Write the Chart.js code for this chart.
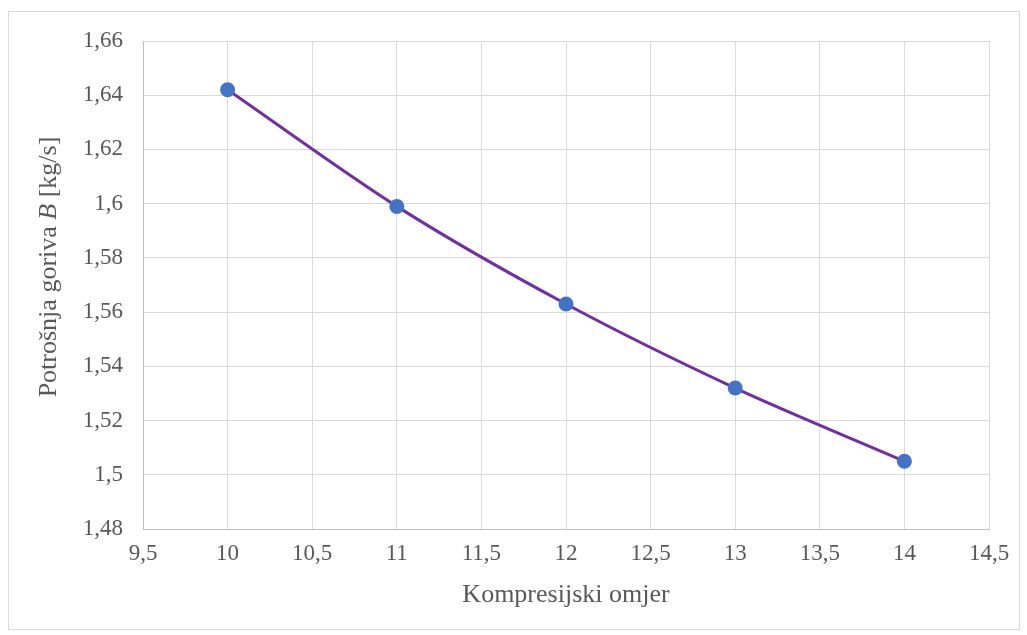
<!DOCTYPE html>
<html>
<head>
<meta charset="utf-8">
<script src="https://cdn.jsdelivr.net/npm/chart.js@4"></script>
<style>
  body { margin: 0; background: #fff; }
  #wrap { width: 1027px; height: 635px; }
</style>
</head>
<body>
<div id="wrap"><canvas id="myChart"></canvas></div>
<script>
const ratios = [10, 11, 12, 13, 14];
const fuelUse = [1.642, 1.599, 1.563, 1.532, 1.505];
const xTitle = 'Kompresijski omjer';
const yTitleParts = [
    { text: 'Potrošnja goriva ', style: '' },
    { text: 'B', style: 'italic ' },
    { text: ' [kg/s]', style: '' }
];

const serif = '"Liberation Serif", "Times New Roman", serif';
const gray = '#595959';
const titleSize = 26;
const tickSize = 23;

function comma(v) {
    return String(parseFloat(Number(v).toFixed(2))).replace('.', ',');
}

// frame around the whole chart, like the Excel chart border
const framePlugin = {
    id: 'frame',
    beforeDraw(c) {
        const ctx = c.ctx;
        ctx.save();
        ctx.strokeStyle = '#d9d9d9';
        ctx.lineWidth = 1;
        ctx.strokeRect(8.5, 11.5, 1011, 618);
        ctx.restore();
    }
};

// y title with the italic B
const yTitlePlugin = {
    id: 'yTitle',
    afterDraw(c) {
        const ctx = c.ctx;
        ctx.save();
        ctx.fillStyle = gray;
        ctx.textBaseline = 'middle';
        let total = 0;
        yTitleParts.forEach(p => {
            ctx.font = p.style + titleSize + 'px ' + serif;
            total += ctx.measureText(p.text).width;
        });
        ctx.translate(49, 267);
        ctx.rotate(-Math.PI / 2);
        let x = -total / 2;
        yTitleParts.forEach(p => {
            ctx.font = p.style + titleSize + 'px ' + serif;
            ctx.fillText(p.text, x, 0);
            x += ctx.measureText(p.text).width;
        });
        ctx.restore();
    }
};

const chart = document.querySelector('#myChart');
const myChart = new Chart(chart, {
    type: 'line',
    data: {
        datasets: [{
            data: ratios.map((r, i) => ({ x: r, y: fuelUse[i] })),
            borderColor: '#7030a0',
            borderWidth: 3,
            backgroundColor: '#4472c4',
            pointBackgroundColor: '#4472c4',
            pointBorderColor: '#4472c4',
            pointRadius: 7.5,
            pointBorderWidth: 0,
            tension: 0.3,
            fill: false
        }]
    },
    options: {
        responsive: true,
        maintainAspectRatio: false,
        animation: false,
        layout: { padding: { top: 41, right: 38, left: 0, bottom: 0 } },
        plugins: {
            legend: { display: false },
            tooltip: { enabled: false }
        },
        scales: {
            x: {
                type: 'linear',
                min: 9.5,
                max: 14.5,
                ticks: {
                    stepSize: 0.5,
                    color: gray,
                    padding: 11,
                    font: { family: serif, size: tickSize },
                    callback: comma,
                    maxRotation: 0
                },
                grid: { color: '#d9d9d9', lineWidth: 1, drawTicks: false },
                border: { color: '#bfbfbf', width: 1 },
                title: {
                    display: true,
                    text: xTitle,
                    color: gray,
                    font: { family: serif, size: titleSize },
                    padding: { top: 0, bottom: 24 }
                },
                afterFit(scale) { scale.height = 106; }
            },
            y: {
                min: 1.48,
                max: 1.66,
                ticks: {
                    stepSize: 0.02,
                    color: gray,
                    padding: 20,
                    font: { family: serif, size: tickSize },
                    callback: comma
                },
                grid: { color: '#d9d9d9', lineWidth: 1, drawTicks: false },
                border: { color: '#bfbfbf', width: 1 },
                afterFit(scale) { scale.width = 143; }
            }
        }
    },
    plugins: [framePlugin, yTitlePlugin]
});
</script>
</body>
</html>
